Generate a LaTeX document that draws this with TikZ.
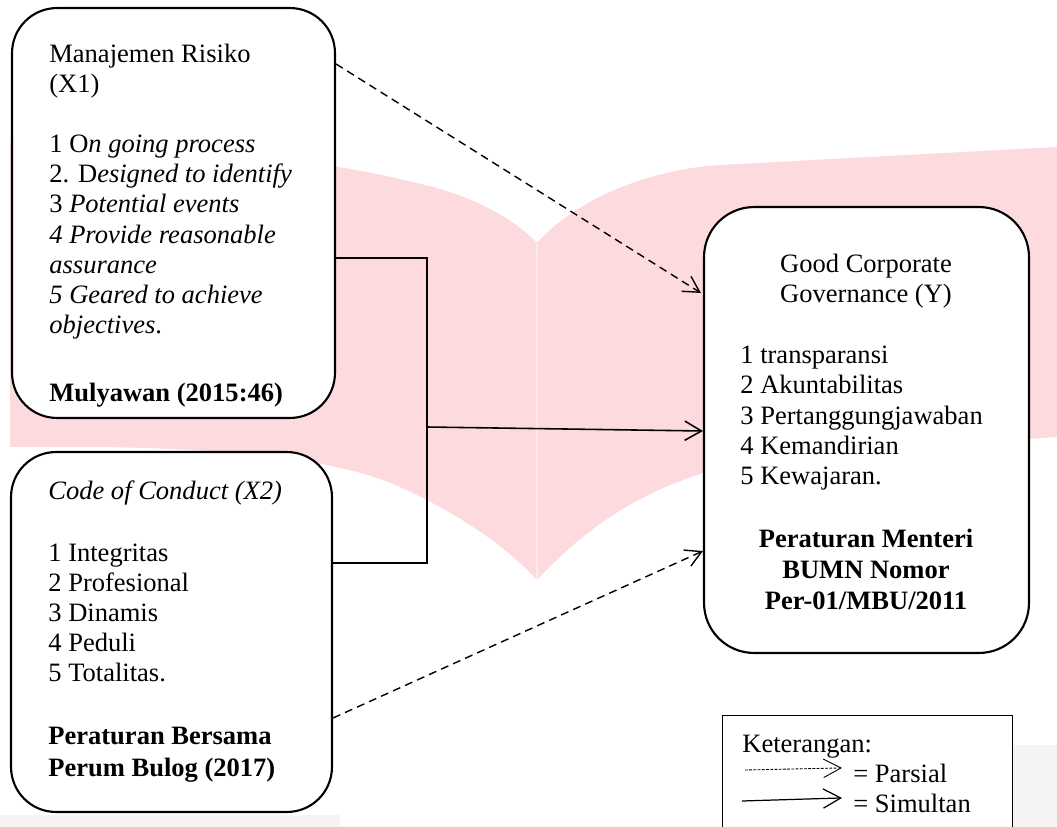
\documentclass[tikz,border=0pt]{standalone}
\usepackage{fontspec}
\setmainfont{Liberation Serif}
\usetikzlibrary{arrows.meta,calc}
\definecolor{wmpink}{RGB}{252,218,221}
\definecolor{wmgrey}{RGB}{244,244,244}

\begin{document}
\begin{tikzpicture}[x=0.02cm, y=-0.02cm,
    box/.style={draw, line width=1.2pt, fill=white, rounded corners=0.9cm},
    txt/.style={inner sep=0pt, font=\fontsize{15.1}{17.1}\selectfont},
    parsial/.style={dash pattern=on 4.5pt off 3pt, line width=0.8pt, -{Straight Barb[length=9pt,width=10pt]}},
    simultan/.style={line width=0.9pt, -{Straight Barb[length=9.5pt,width=11pt]}},
    legdash/.style={dash pattern=on 1.6pt off 0.8pt, line width=0.5pt, -{Straight Barb[length=10pt,width=10.5pt]}},
    legsolid/.style={line width=0.7pt, -{Straight Barb[length=10pt,width=11pt]}}]

    \useasboundingbox (0,0) rectangle (1057,827);
    \clip (0,0) rectangle (1057,827);

    % Watermark
    \fill[wmpink] (10,143) .. controls (200,145) and (330,160) .. (433,187)
        .. controls (480,200) and (515,220) .. (537,243)
        .. controls (570,205) and (640,170) .. (720,165)
        .. controls (850,158) and (1000,150) .. (1057,147)
        -- (1057,437)
        .. controls (950,445) and (800,450) .. (703,473)
        .. controls (620,500) and (575,540) .. (537,580)
        .. controls (500,540) and (450,510) .. (400,487)
        .. controls (330,455) and (200,445) .. (10,447) -- cycle;
    \draw[white, opacity=0.4, line width=1pt] (537,243) -- (537,580);
    \fill[wmgrey] (1012,745) rectangle (1057,827);
    \fill[wmgrey] (0,815) rectangle (340,827);

    % Boxes
    \node[box, minimum width=6.46cm, minimum height=8.2cm] (x1) at (173.5,213) {};
    \node[box, minimum width=6.42cm, minimum height=7.2cm] (x2) at (171.5,632) {};
    \node[box, rounded corners=1cm, minimum width=6.5cm, minimum height=8.92cm] (y) at (866.5,430) {};
    \node[draw, line width=0.8pt, fill=white, minimum width=5.8cm, minimum height=3cm, anchor=north west] (ket) at (722,715) {};

    % Texts
    \node[txt, anchor=north west, align=left] (x1txt) at (49,44) {Manajemen Risiko\\(X1)\\[17.1pt]
        1 O\textit{n going process}\\2. D\textit{esigned to identify}\\3 \textit{Potential events}\\
        \textit{4 Provide reasonable}\\\textit{assurance}\\\textit{5 Geared to achieve}\\\textit{objectives}.\\[22pt]
        \textbf{Mulyawan (2015:46)}};
    \node[txt, anchor=north west, align=left] (x2txt) at (48,480) {\textit{Code of Conduct (X2)}\\[18.5pt]
        1 Integritas\\2 Profesional\\3 Dinamis\\4 Peduli\\5 Totalitas.\\[18.5pt]
        \textbf{Peraturan Bersama}\\[1.2pt]\textbf{Perum Bulog (2017)}};
    \node[txt, anchor=north, align=center] (ytitle) at (866,254) {Good Corporate\\Governance (Y)};
    \node[txt, anchor=north west, align=left] (ylist) at (740,346) {1 transparansi\\2 Akuntabilitas\\3 Pertanggungjawaban\\4 Kemandirian\\5 Kewajaran.};
    \node[txt, anchor=north, align=center, font=\fontsize{15.1}{17.6}\selectfont\bfseries] (ysrc) at (866,529) {Peraturan Menteri\\BUMN Nomor\\Per-01/MBU/2011};

    % Edges
    \coordinate (joint) at (427,427);
    \draw[line width=0.9pt] ($(x1.east)+(0,45)$) -| (joint) |- ($(x2.east)+(0,-69)$);
    \draw[simultan] (joint) -- ($(y.west)+(0,1)$);
    \draw[parsial] ($(x1.north east)+(0,57)$) -- ($(y.west)+(-2,-137)$);
    \draw[parsial] ($(x2.east)+(0,86)$) -- ($(y.west)+(0,121)$);

    % Legend
    \node[txt, anchor=base west] (kettitle) at (742,752) {Keterangan:};
    \node[txt, anchor=base west] (parsialtxt) at (853,782) {= Parsial};
    \node[txt, anchor=base west] (simultantxt) at (853,812) {= Simultan};
    \coordinate (p0) at (745,770);
    \coordinate (s0) at (742,801);
    \draw[legdash] (p0) -- ($(parsialtxt.west)+(-11,-5)$);
    \draw[legsolid] (s0) -- ($(simultantxt.west)+(-11,-5)$);
\end{tikzpicture}
\end{document}
